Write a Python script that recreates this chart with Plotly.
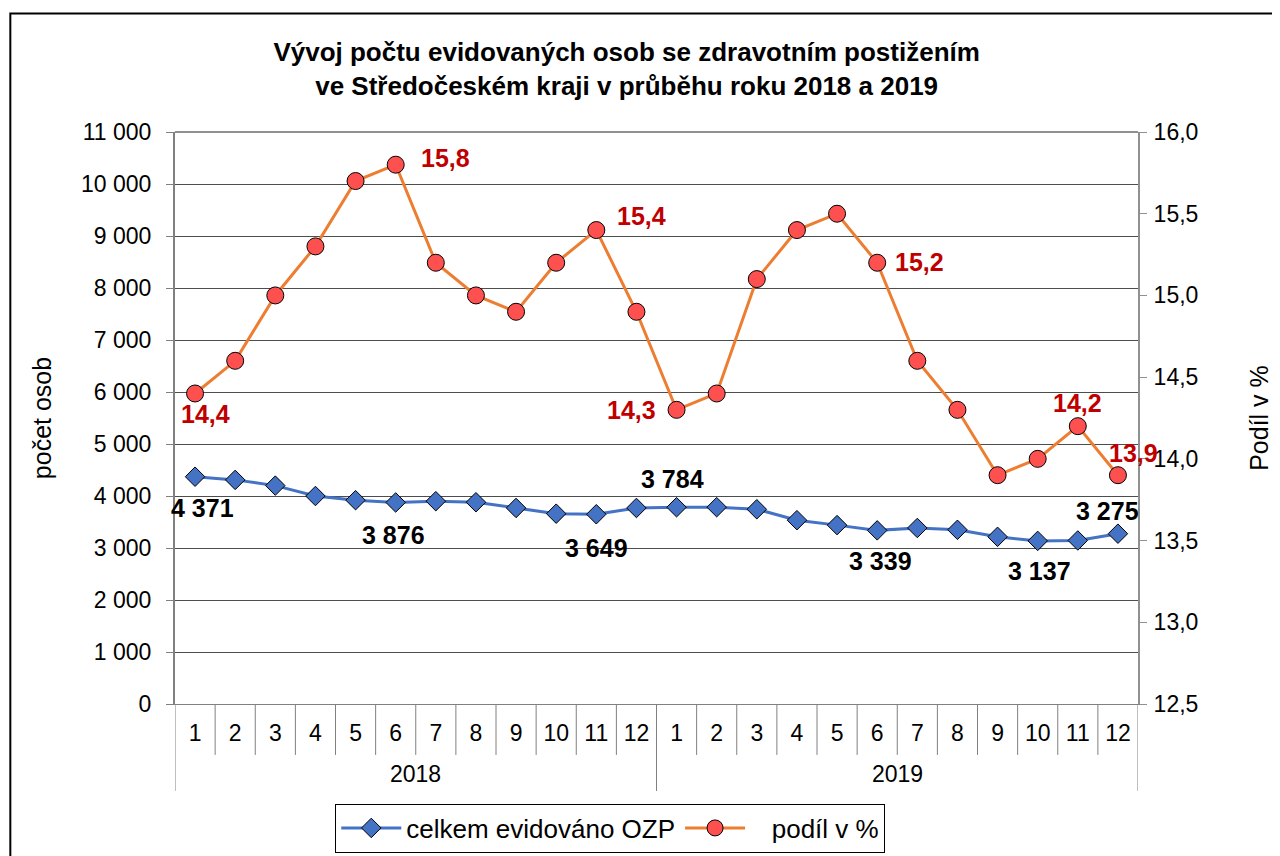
import plotly.graph_objects as go

# ---- data ----
years = ["2018", "2019"]
months = [str(m) for m in range(1, 13)]
month_labels = months + months
celkem = [4371, 4310, 4200, 4000, 3920, 3876, 3900, 3880, 3770, 3660, 3649, 3770,
          3784, 3785, 3745, 3535, 3440, 3339, 3385, 3350, 3215, 3137, 3145, 3275]
podil = [14.4, 14.6, 15.0, 15.3, 15.7, 15.8, 15.2, 15.0, 14.9, 15.2, 15.4, 14.9,
         14.3, 14.4, 15.1, 15.4, 15.5, 15.2, 14.6, 14.3, 13.9, 14.0, 14.2, 13.9]
# which points carry a data label
celkem_labeled = [0, 5, 10, 12, 17, 21, 23]
podil_labeled = [0, 5, 10, 12, 17, 22, 23]

idx = list(range(len(month_labels)))

FONT = "Liberation Sans, Arial, sans-serif"
BLUE = "#4472C4"
ORANGE = "#ED7D31"
RED = "#FF5050"
DARKRED = "#C00000"

fig = go.Figure()
fig.add_trace(go.Scatter(
    x=idx, y=celkem, name="celkem evidováno OZP", mode="lines+markers",
    line=dict(color=BLUE, width=3),
    marker=dict(symbol="diamond", size=15, color=BLUE, line=dict(color="black", width=1)),
    yaxis="y"))
fig.add_trace(go.Scatter(
    x=idx, y=podil, name="   podíl v %", mode="lines+markers",
    line=dict(color=ORANGE, width=3),
    marker=dict(symbol="circle", size=17, color=RED, line=dict(color="black", width=1)),
    yaxis="y2"))

annotations = []
# label offsets in pixels (xshift, yshift)
c_off = {0: (7, -31), 5: (-2, -33), 10: (0, -34), 12: (-4, 28), 17: (3, -31), 21: (2, -30), 23: (-10, 23)}
p_off = {0: (10, -21), 5: (50, 7), 10: (45, 14), 12: (-45, 0), 17: (42, 1), 22: (0, 23), 23: (16, 22)}
for i in celkem_labeled:
    annotations.append(dict(
        x=idx[i], y=celkem[i], xref="x", yref="y",
        text=f"{celkem[i]:,}".replace(",", " "), showarrow=False,
        xshift=c_off[i][0], yshift=c_off[i][1],
        font=dict(family=FONT, size=25, color="black", weight="bold")))
for i in podil_labeled:
    annotations.append(dict(
        x=idx[i], y=podil[i], xref="x", yref="y2",
        text=f"{podil[i]:.1f}".replace(".", ","), showarrow=False,
        xshift=p_off[i][0], yshift=p_off[i][1],
        font=dict(family=FONT, size=25, color=DARKRED, weight="bold")))

# year labels centered under each group
n = len(months)
for k, yr in enumerate(years):
    annotations.append(dict(
        x=k * n + (n - 1) / 2, y=-0.122, xref="x", yref="paper",
        text=yr, showarrow=False, yanchor="middle",
        font=dict(family=FONT, size=23, color="black")))

# separators between months and years
shapes = []
for b in range(len(idx) + 1):
    is_year = (b % n == 0)
    shapes.append(dict(
        type="line", xref="x", yref="paper",
        x0=b - 0.5, x1=b - 0.5, y0=0, y1=-0.152 if is_year else -0.089,
        line=dict(color="#808080", width=1)))
# outer chart border
shapes.append(dict(type="rect", xref="paper", yref="paper",
                   x0=-0.171, x1=1.2, y0=-0.4, y1=1.2073,
                   line=dict(color="black", width=2), layer="below"))
# top border of plot area
shapes.append(dict(type="line", xref="paper", yref="paper", x0=0, x1=1, y0=1, y1=1,
                   line=dict(color="#909090", width=2)))

fig.update_layout(
    width=1280, height=856,
    margin=dict(l=167, r=150, t=124, b=158),
    paper_bgcolor="white", plot_bgcolor="white",
    separators=", ",
    font=dict(family=FONT, size=23, color="black"),
    title=dict(
        text="Vývoj počtu evidovaných osob se zdravotním postižením<br>ve Středočeském kraji v průběhu roku 2018 a 2019",
        x=0.469, xref="paper", xanchor="center",
        y=1 - 53 / 856, yref="container", yanchor="middle",
        font=dict(family=FONT, size=26, color="black", weight="bold")),
    xaxis=dict(
        range=[-0.5, len(idx) - 0.5],
        tickvals=idx, ticktext=month_labels,
        ticks="", showgrid=False, zeroline=False,
        showline=True, linecolor="#808080", linewidth=1,
        ticklabelstandoff=8,
        tickfont=dict(family=FONT, size=23, color="black")),
    yaxis=dict(
        range=[0, 11000], dtick=1000, tickformat=",d",
        showgrid=True, gridcolor="#4d4d4d", gridwidth=1, zeroline=False,
        showline=True, linecolor="#808080", linewidth=2,
        ticks="outside", ticklen=7, tickcolor="#808080",
        ticklabelstandoff=10,
        tickfont=dict(family=FONT, size=23, color="black"),
        title=dict(text="počet osob", standoff=22,
                   font=dict(family=FONT, size=25, color="black"))),
    yaxis2=dict(
        range=[12.5, 16.0], dtick=0.5, tickformat=".1f",
        overlaying="y", side="right", showgrid=False, zeroline=False,
        showline=True, linecolor="#909090", linewidth=2,
        ticks="outside", ticklen=7, tickcolor="#909090",
        ticklabelstandoff=2,
        tickfont=dict(family=FONT, size=23, color="black"),
        title=dict(text="Podíl v %", standoff=53,
                   font=dict(family=FONT, size=25, color="black"))),
    legend=dict(
        orientation="h", x=0.452, xanchor="center", y=-0.174, yanchor="top",
        bgcolor="white", bordercolor="black", borderwidth=1,
        font=dict(family=FONT, size=26, color="black"),
        itemwidth=60),
    annotations=annotations,
    shapes=shapes,
)

fig.write_html("out.html")
